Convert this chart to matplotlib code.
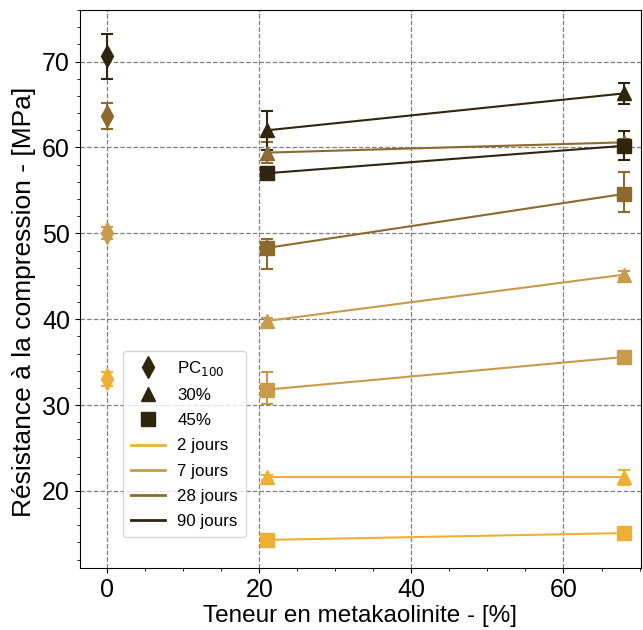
import matplotlib.pyplot as plt
from matplotlib.ticker import MultipleLocator

plt.rcParams['font.family'] = ['Liberation Sans', 'DejaVu Sans']

ages = ["2 jours", "7 jours", "28 jours", "90 jours"]
colors = ["#edb035", "#c89b4a", "#8c6a2e", "#30250f"]

# PC100, metakaolinite 0 %
x_pc = [0]
pc_val = [33.0, 50.0, 63.7, 70.6]
pc_err = [0.8, 0.7, 1.5, 2.6]

# 30 % substitution
x_30 = [21, 68]
s30_val = [[21.6, 21.6], [39.8, 45.2], [59.4, 60.6], [62.0, 66.3]]
s30_err = [[0.3, 0.9], [0.3, 0.4], [1.2, 0.4], [2.3, 1.2]]

# 45 % substitution
x_45 = [21, 68]
s45_val = [[14.3, 15.1], [31.8, 35.6], [48.3, 54.6], [57.0, 60.2]]
s45_lo = [[0.3, 0.3], [1.7, 0.3], [2.5, 2.1], [0.4, 1.7]]
s45_hi = [[0.3, 0.3], [2.1, 0.3], [1.0, 2.5], [0.4, 1.7]]


def main():
    fig = plt.figure(figsize=(6.43, 6.30), dpi=100)
    ax = fig.add_axes([0.124, 0.098, 0.873, 0.886])

    ebkw = dict(capsize=4, capthick=1.5, elinewidth=1.5, lw=1.5)
    for i, c in enumerate(colors):
        ax.errorbar(x_pc, [pc_val[i]], yerr=[pc_err[i]], fmt="d", ms=11,
                    color=c, **ebkw)
        ax.errorbar(x_30, s30_val[i], yerr=s30_err[i], fmt="-^", ms=10,
                    color=c, **ebkw)
        ax.errorbar(x_45, s45_val[i], yerr=[s45_lo[i], s45_hi[i]],
                    fmt="-s", ms=10, color=c, **ebkw)

    # legend handles
    dark = colors[-1]
    handles = [
        plt.Line2D([], [], ls="none", marker="d", ms=11, color=dark),
        plt.Line2D([], [], ls="none", marker="^", ms=10, color=dark),
        plt.Line2D([], [], ls="none", marker="s", ms=10, color=dark),
    ]
    labels = ["PC$_{100}$", "30%", "45%"]
    for a, c in zip(ages, colors):
        handles.append(plt.Line2D([], [], color=c, lw=2))
        labels.append(a)
    ax.legend(handles, labels, loc="lower left", bbox_to_anchor=(0.062, 0.04),
              fontsize=12.2, handlelength=2.0, labelspacing=0.6,
              borderpad=0.5, handletextpad=0.7)

    ax.set_xlim(-3.6, 70.2)
    ax.set_ylim(11, 76)
    ax.xaxis.set_major_locator(MultipleLocator(20))
    ax.xaxis.set_minor_locator(MultipleLocator(5))
    ax.yaxis.set_major_locator(MultipleLocator(10))
    ax.yaxis.set_minor_locator(MultipleLocator(2))
    ax.grid(True, which="major", ls="--", color="#808080", lw=0.9)
    ax.set_axisbelow(True)
    ax.tick_params(labelsize=18)
    ax.set_xlabel("Teneur en metakaolinite - [%]", fontsize=17.5, labelpad=2)
    ax.set_ylabel("Résistance à la compression - [MPa]", fontsize=19)
    ax.yaxis.set_label_coords(-0.078, 0.477)

    fig.savefig("out.png", dpi=100)


if __name__ == "__main__":
    main()
